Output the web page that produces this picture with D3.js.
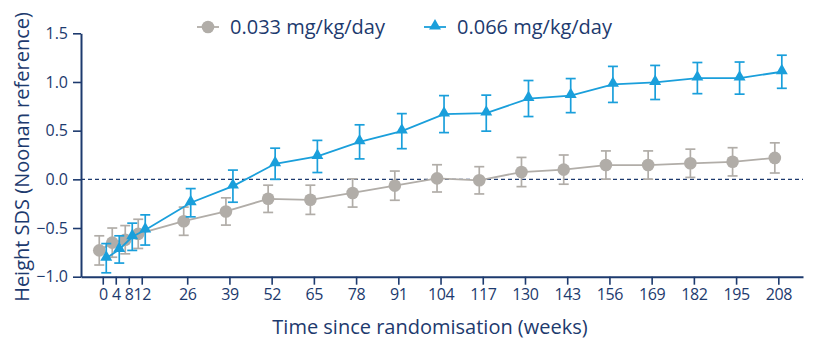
<!DOCTYPE html>
<html>
<head>
<meta charset="utf-8">
<script src="https://cdn.jsdelivr.net/npm/d3@7"></script>
<style>
  body { margin: 0; background: #fff; }
  svg { display: block; font-family: "Open Sans", "Noto Sans", sans-serif; }
</style>
</head>
<body>
<svg id="chart" width="813" height="340"></svg>
<script>
// weeks since randomisation
const weeks = [0, 4, 8, 12, 26, 39, 52, 65, 78, 91, 104, 117, 130, 143, 156, 169, 182, 195, 208];
const yTicks = [-1.0, -0.5, 0.0, 0.5, 1.0, 1.5];

// 0.033 mg/kg/day
const lowDose = [-0.73, -0.65, -0.62, -0.56, -0.43, -0.33, -0.20, -0.21, -0.14, -0.065, 0.01, -0.01, 0.075, 0.10, 0.147, 0.147, 0.165, 0.18, 0.22];
const lowDoseErr = [0.15, 0.15, 0.145, 0.15, 0.145, 0.14, 0.14, 0.15, 0.145, 0.15, 0.14, 0.14, 0.15, 0.15, 0.145, 0.145, 0.145, 0.145, 0.155];

// 0.066 mg/kg/day
const highDose = [-0.81, -0.72, -0.59, -0.52, -0.24, -0.07, 0.16, 0.235, 0.385, 0.495, 0.67, 0.68, 0.83, 0.86, 0.975, 0.995, 1.04, 1.04, 1.105];
const highDoseErr = [0.15, 0.14, 0.14, 0.155, 0.145, 0.165, 0.16, 0.165, 0.175, 0.18, 0.19, 0.185, 0.185, 0.175, 0.185, 0.175, 0.16, 0.165, 0.17];

const seriesNames = ['0.033 mg/kg/day', '0.066 mg/kg/day'];

const navy = '#1d3a6e';
const grey = '#b1ada8';
const blue = '#1a9fdb';

const svg = d3.select('#chart');

const x = d3.scaleLinear().domain([-6.7, 215.6]).range([81, 803]);
const y = d3.scaleLinear().domain([-1, 1.5]).range([276.7, 33.3]);

// axes
const xAxis = svg.append('g')
  .attr('transform', `translate(0,${y(-1)})`)
  .call(d3.axisBottom(x).tickValues(weeks).tickSize(8).tickSizeOuter(0).tickPadding(4));
const yAxis = svg.append('g')
  .attr('transform', `translate(${x.range()[0]},0)`)
  .call(d3.axisLeft(y).tickValues(yTicks).tickSize(8).tickSizeOuter(0).tickPadding(5).tickFormat(d3.format('.1f')));

[xAxis, yAxis].forEach(ax => {
  ax.select('.domain').attr('stroke', navy).attr('stroke-width', 2);
  ax.selectAll('.tick line').attr('stroke', navy).attr('stroke-width', 1.6);
  ax.selectAll('.tick text')
    .attr('fill', navy)
    .style('font-size', '16px')
    .style('font-family', '"Open Sans", sans-serif');
});
xAxis.selectAll('.tick text').attr('letter-spacing', '-0.4');

// zero reference
svg.append('line')
  .attr('x1', x.range()[0]).attr('x2', x.range()[1])
  .attr('y1', y(0)).attr('y2', y(0))
  .attr('stroke', navy).attr('stroke-width', 1.3)
  .attr('stroke-dasharray', '4,3');

// axis titles
svg.append('text')
  .attr('x', 430).attr('y', 334)
  .attr('text-anchor', 'middle')
  .attr('fill', navy)
  .style('font-size', '20px')
  .text('Time since randomisation (weeks)');

svg.append('text')
  .attr('transform', 'translate(29,157) rotate(-90)')
  .attr('text-anchor', 'middle')
  .attr('fill', navy)
  .style('font-size', '20px')
  .text('Height SDS (Noonan reference)');

const triangle = d3.symbol().type(d3.symbolTriangle).size(62);

function drawSeries(values, errs, colour, offset, marker) {
  const g = svg.append('g');
  const pts = weeks.map((w, i) => ({ w: w, v: values[i], e: errs[i] }));
  const px = d => x(d.w) + offset;

  g.append('path')
    .datum(pts)
    .attr('fill', 'none')
    .attr('stroke', colour)
    .attr('stroke-width', 1.8)
    .attr('d', d3.line().x(px).y(d => y(d.v)));

  const bars = g.selectAll('.err').data(pts).enter().append('g');
  bars.append('line')
    .attr('x1', px).attr('x2', px)
    .attr('y1', d => y(d.v + d.e)).attr('y2', d => y(d.v - d.e))
    .attr('stroke', colour).attr('stroke-width', 1.7);
  [1, -1].forEach(s => {
    bars.append('line')
      .attr('x1', d => px(d) - 5).attr('x2', d => px(d) + 5)
      .attr('y1', d => y(d.v + s * d.e)).attr('y2', d => y(d.v + s * d.e))
      .attr('stroke', colour).attr('stroke-width', 1.7);
  });

  if (marker === 'circle') {
    g.selectAll('circle').data(pts).enter().append('circle')
      .attr('cx', px).attr('cy', d => y(d.v))
      .attr('r', 6.3)
      .attr('fill', colour);
  } else {
    g.selectAll('.tri').data(pts).enter().append('path')
      .attr('d', triangle)
      .attr('transform', d => `translate(${px(d)},${y(d.v) - 1})`)
      .attr('fill', colour);
  }
}

drawSeries(lowDose, lowDoseErr, grey, -3.5, 'circle');
drawSeries(highDose, highDoseErr, blue, 3.5, 'triangle');

// legend
const legend = svg.append('g').attr('transform', 'translate(0,27)');
const legendItems = [
  { name: seriesNames[0], colour: grey, marker: 'circle', x0: 197 },
  { name: seriesNames[1], colour: blue, marker: 'triangle', x0: 424 }
];
legendItems.forEach(item => {
  const lg = legend.append('g').attr('transform', `translate(${item.x0},0)`);
  lg.append('line').attr('x1', 0).attr('x2', 22).attr('y1', 0).attr('y2', 0)
    .attr('stroke', item.colour).attr('stroke-width', 1.8);
  if (item.marker === 'circle') {
    lg.append('circle').attr('cx', 11).attr('cy', 0).attr('r', 6.3).attr('fill', item.colour);
  } else {
    lg.append('path').attr('d', triangle).attr('transform', 'translate(11,-1)').attr('fill', item.colour);
  }
  lg.append('text')
    .attr('x', 33).attr('y', 0).attr('dy', '0.35em')
    .attr('fill', navy)
    .style('font-size', '20px')
    .text(item.name);
});
</script>
</body>
</html>
